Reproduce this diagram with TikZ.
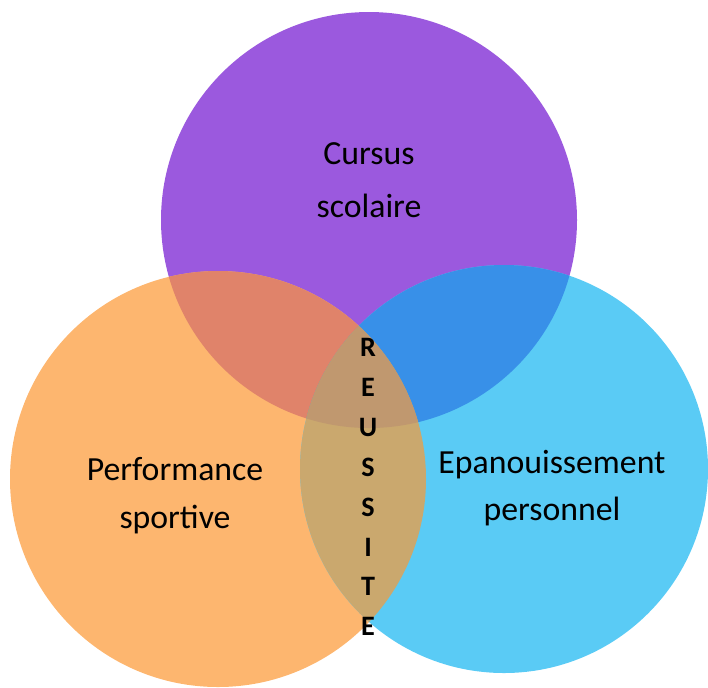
\documentclass[tikz,border=0pt]{standalone}
\usepackage{fontspec}
\setmainfont{Carlito}
\definecolor{violet1}{HTML}{9B59DE}
\definecolor{orange1}{HTML}{FDB66F}
\definecolor{bleu1}{HTML}{5ACBF5}
\definecolor{vo}{HTML}{E0836A}
\definecolor{vb}{HTML}{3890E8}
\definecolor{ob}{HTML}{CAA86E}
\definecolor{vob}{HTML}{C0986F}
\tikzset{label/.style={font=\fontsize{24}{34}\selectfont,align=center,text=black}}
\begin{document}
\begin{tikzpicture}[x=0.025cm,y=-0.025cm]
                \useasboundingbox (0,0) rectangle (708,687);
                %% circles
                \fill[violet1] (369,220) circle[radius=208];
                \fill[orange1] (218,479) circle[radius=208];
                \fill[bleu1] (504,469) circle[radius=204];
                %% overlaps
                \begin{scope}
                    \clip (369,220) circle[radius=208];
                    \fill[vo] (218,479) circle[radius=208];
                    \fill[vb] (504,469) circle[radius=204];
                \end{scope}
                \begin{scope}
                    \clip (218,479) circle[radius=208];
                    \fill[ob] (504,469) circle[radius=204];
                    \clip (504,469) circle[radius=204];
                    \fill[vob] (369,220) circle[radius=208];
                \end{scope}
                %% texts
                \node[label] (C) at (369,180) {Cursus\\[4pt]scolaire};
                \node[label] (P) at (175,496) {Performance\\sportive};
                \node[label] (EP) at (552,488) {Epanouissement\\personnel};
                \node[font=\fontsize{20}{28.4}\selectfont\bfseries,align=center,inner sep=0pt] (R) at (368,487) {R\\E\\U\\S\\S\\I\\T\\E};
            \end{tikzpicture}
\end{document}
